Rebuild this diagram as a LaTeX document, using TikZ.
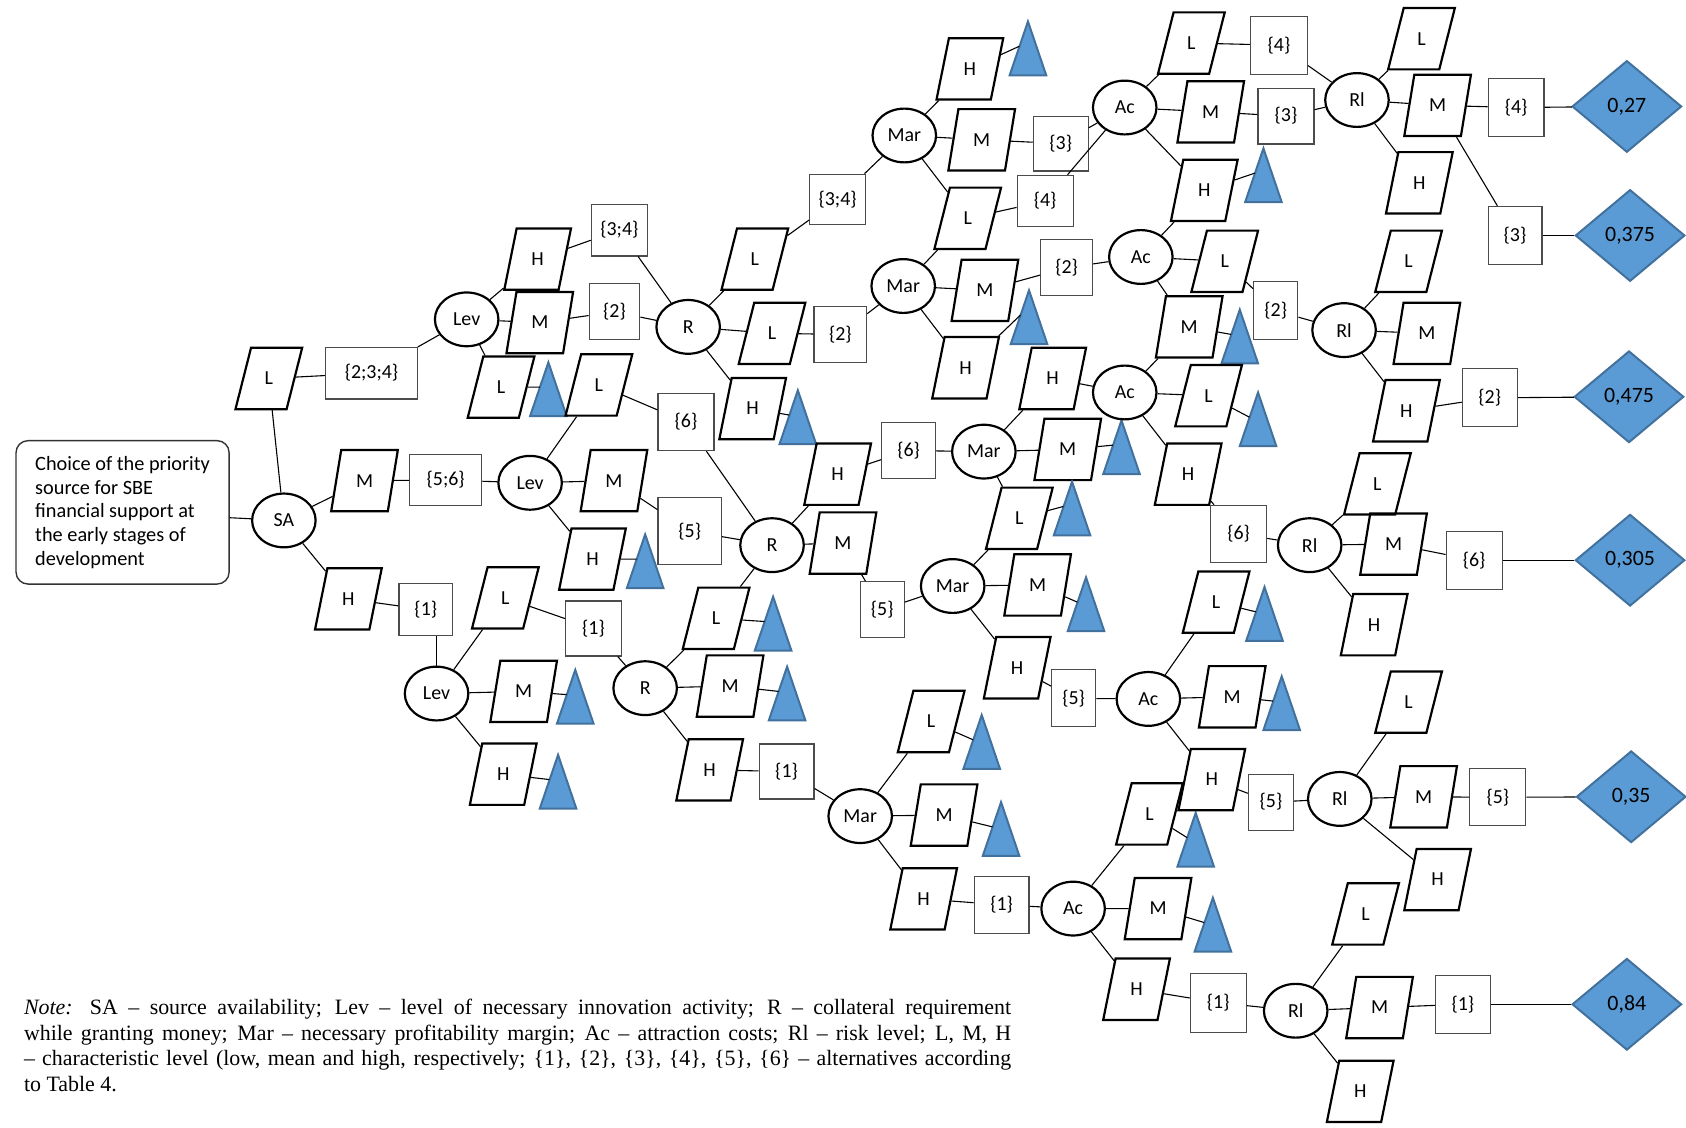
\documentclass[tikz,border=0pt]{standalone}
\usepackage{fontspec}
\setmainfont{Carlito}
\newfontfamily\notefont{Liberation Serif}
\usetikzlibrary{shapes.geometric}
\definecolor{triblue}{RGB}{91,155,213}
\definecolor{triedge}{RGB}{65,113,156}
\tikzset{
 lbl/.style={font=\fontsize{10}{12}\selectfont},
 para/.style={lbl, trapezium, trapezium left angle=74, trapezium right angle=106, trapezium stretches=true, draw, line width=1.1pt, minimum width=33.5pt, minimum height=30.8pt, inner sep=0pt},
 ell/.style={lbl, ellipse, draw, line width=1.1pt, minimum width=31.9pt, minimum height=27pt, inner sep=0pt},
 bx/.style 2 args={lbl, rectangle, draw=black!70, line width=0.6pt, minimum width=#1*0.54pt, minimum height=#2*0.54pt, inner sep=0pt},
 dia/.style={font=\fontsize{11}{13}\selectfont, diamond, aspect=1.2, fill=triblue, draw=triedge, line width=1pt, minimum width=55pt, minimum height=46pt, inner sep=0pt},
 conn/.style={line width=0.55pt},
 trishape/.style={fill=triblue, draw=triedge, line width=1pt},
 mainbox/.style={rectangle, rounded corners=6pt, draw=black!80, line width=0.7pt, minimum width=107pt, minimum height=72pt, align=left, font=\fontsize{10.2}{11.9}\selectfont, inner sep=0pt},
}
\newcommand\mytri[2]{\filldraw[trishape,shift={(#2)}] (0,-25) -- (17,25) -- (-17,25) -- cycle; \path[shift={(#2)}] (-8,-2) coordinate (#1);}
\begin{document}
\begin{tikzpicture}[x=0.54pt,y=-0.54pt]
\fill[white] (0,0) rectangle (1568,1049);
\useasboundingbox (0,0) rectangle (1568,1049);

\node[mainbox] (main) at (114,476.5) {Choice of the priority\\source for SBE\\financial support at\\the early stages of\\development};
\node[ell] (SA) at (264,484) {SA};
\node[para] (saL) at (250,352) {L};
\node[para] (saM) at (339,447) {M};
\node[para] (saH) at (324,557) {H};
\node[bx={85}{48}] (b234) at (345.5,347) {\{2;3;4\}};
\node[bx={67}{47}] (b56) at (414.5,446.5) {\{5;6\}};
\node[bx={50}{48}] (b1a) at (396,567) {\{1\}};

\node[ell] (levA) at (434,297) {Lev};
\node[para] (lAH) at (500,241) {H};
\node[para] (lAM) at (502,300) {M};
\node[para] (lAL) at (466,360) {L};
\mytri{T1}{510,362}
\node[bx={52}{48}] (b34a) at (576,214) {\{3;4\}};
\node[bx={47}{52}] (b2a) at (571.5,290) {\{2\}};

\node[ell] (levB) at (493,449) {Lev};
\node[para] (lBL) at (557,358) {L};
\node[para] (lBM) at (571,447) {M};
\node[para] (lBH) at (551,520) {H};
\mytri{T2}{600,522}
\node[bx={52}{53}] (b6a) at (638,392.5) {\{6\}};
\node[bx={59}{62}] (b5a) at (641.5,494) {\{5\}};

\node[ell] (levC) at (406,645) {Lev};
\node[para] (lCL) at (470,556) {L};
\node[para] (lCM) at (487,643) {M};
\node[para] (lCH) at (468,720) {H};
\mytri{T4}{535,648}
\mytri{T5}{519,727}
\node[bx={52}{51}] (b1b) at (552,584.5) {\{1\}};

\node[ell] (rA) at (640,304) {R};
\node[para] (rAL1) at (702,241) {L};
\node[para] (rAL2) at (718,310) {L};
\node[para] (rAH) at (700,380) {H};
\mytri{T3}{742,388}
\node[bx={52}{47}] (b34b) at (779,185.5) {\{3;4\}};
\node[bx={49}{52}] (b2b) at (781.5,311) {\{2\}};

\node[ell] (rB) at (718,507) {R};
\node[para] (rBH) at (779,441) {H};
\node[para] (rBM) at (784,505) {M};
\node[bx={50}{52}] (b6b) at (845,419) {\{6\}};
\node[bx={41}{52}] (b5b) at (820.5,567) {\{5\}};

\node[ell] (rC) at (600,640) {R};
\node[para] (rCL) at (666,575) {L};
\node[para] (rCM) at (679,638) {M};
\node[para] (rCH) at (660,716) {H};
\mytri{T6}{719,580}
\mytri{T7}{732,645}
\node[bx={51}{51}] (b1c) at (731.5,717.5) {\{1\}};

\node[ell] (marE) at (800,759) {Mar};
\node[para] (mEL) at (866,671) {L};
\node[para] (mEM) at (878,758) {M};
\node[para] (mEH) at (859,836) {H};
\mytri{T8}{913,690}
\mytri{T9}{931,771}
\node[bx={51}{53}] (b1d) at (931.5,841.5) {\{1\}};

\node[ell] (acE) at (998,845) {Ac};
\node[para] (aEL) at (1069,757) {L};
\node[para] (aEM) at (1077,845) {M};
\node[para] (aEH) at (1057,920) {H};
\mytri{T20}{1112,781}
\mytri{T21}{1128,860}
\node[bx={52}{55}] (b1e) at (1133,932.5) {\{1\}};

\node[ell] (marA) at (841,126) {Mar};
\node[para] (mAH) at (902,64) {H};
\node[para] (mAM) at (913,130) {M};
\node[para] (mAL) at (900,203) {L};
\mytri{T10}{956,45}
\node[bx={51}{51}] (b3a) at (986.5,133.5) {\{3\}};
\node[bx={52}{48}] (b4a) at (972,187) {\{4\}};

\node[ell] (marB) at (840,266) {Mar};
\node[para] (mBM) at (916,270) {M};
\node[para] (mBH) at (898,342) {H};
\mytri{T11}{957,295}
\node[bx={48}{52}] (b2c) at (992,249) {\{2\}};

\node[ell] (acA) at (1046,100) {Ac};
\node[para] (aAL) at (1108,40) {L};
\node[para] (aAM) at (1126,104) {M};
\node[para] (aAH) at (1120,177) {H};
\mytri{T12}{1175,163}
\node[bx={53}{54}] (b4b) at (1189.5,42) {\{4\}};
\node[bx={52}{52}] (b3b) at (1196,108) {\{3\}};

\node[ell] (acB) at (1061,239) {Ac};
\node[para] (aBL) at (1139,243) {L};
\node[para] (aBM) at (1106,304) {M};
\mytri{T13}{1153,313}
\node[bx={41}{54}] (b2d) at (1186.5,289) {\{2\}};

\node[ell] (marC) at (915,420) {Mar};
\node[para] (mCH) at (979,352) {H};
\node[para] (mCM) at (993,418) {M};
\node[para] (mCL) at (948,482) {L};
\mytri{T15}{1043,416}
\mytri{T16}{997,473}

\node[ell] (acC) at (1046,365) {Ac};
\node[para] (aCL) at (1124,368) {L};
\node[para] (aCH) at (1105,441) {H};
\mytri{T14}{1170,390}
\node[bx={52}{53}] (b6c) at (1152,496.5) {\{6\}};

\node[ell] (marD) at (886,545) {Mar};
\node[para] (mDM) at (965,544) {M};
\node[para] (mDH) at (946,621) {H};
\mytri{T17}{1010,562}
\node[bx={41}{53}] (b5c) at (998.5,649.5) {\{5\}};

\node[ell] (acD) at (1068,650) {Ac};
\node[para] (aDL) at (1131,560) {L};
\node[para] (aDM) at (1146,648) {M};
\node[para] (aDH) at (1127,725) {H};
\mytri{T18}{1176,571}
\mytri{T19}{1192,654}
\node[bx={42}{52}] (b5d) at (1182,746) {\{5\}};

\node[ell] (rlA) at (1262,93) {Rl};
\node[para] (rlAL) at (1322,36) {L};
\node[para] (rlAM) at (1337,98) {M};
\node[para] (rlAH) at (1320,170) {H};
\node[bx={52}{54}] (b4c) at (1410,100) {\{4\}};
\node[bx={50}{54}] (b3c) at (1409,219) {\{3\}};
\node[dia] (d1) at (1513,99) {0,27};
\node[dia] (d2) at (1516,219) {0,375};

\node[ell] (rlB) at (1250,307) {Rl};
\node[para] (rlBL) at (1310,243) {L};
\node[para] (rlBM) at (1327,310) {M};
\node[para] (rlBH) at (1308,382) {H};
\node[bx={51}{54}] (b2e) at (1385.5,370) {\{2\}};
\node[dia] (d3) at (1515,369) {0,475};

\node[ell] (rlD) at (1218,507) {Rl};
\node[para] (rlDL) at (1281,450) {L};
\node[para] (rlDM) at (1296,506) {M};
\node[para] (rlDH) at (1278,581) {H};
\node[bx={52}{54}] (b6d) at (1371,521) {\{6\}};
\node[dia] (d4) at (1516,521) {0,305};

\node[ell] (rlE) at (1246,743) {Rl};
\node[para] (rlEL) at (1310,653) {L};
\node[para] (rlEM) at (1324,741) {M};
\node[para] (rlEH) at (1337,818) {H};
\node[bx={52}{53}] (b5e) at (1393,741.5) {\{5\}};
\node[dia] (d5) at (1517,741) {0,35};

\node[ell] (rlF) at (1205,940) {Rl};
\node[para] (rlFL) at (1270,850) {L};
\node[para] (rlFM) at (1283,937) {M};
\node[para] (rlFH) at (1265,1015) {H};
\node[bx={51}{54}] (b1f) at (1360.5,934) {\{1\}};
\node[dia] (d6) at (1513,934) {0,84};

\draw[conn] (levC.north |- b1a.south) -- (levC.north);
\foreach \a/\b in {main/SA, SA/saL, SA/saM, SA/saH, saL/b234, b234/levA, saM/b56, b56/levB, saH/b1a,
 levA/lAH, levA/lAM, levA/lAL, lAL/T1, lAH/b34a, lAM/b2a, b34a/rA, b2a/rA,
 levB/lBL, levB/lBM, levB/lBH, lBH/T2, lBL/b6a, lBM/b5a, b6a/rB, b5a/rB,
 levC/lCL, levC/lCM, levC/lCH, lCM/T4, lCH/T5, lCL/b1b, b1b/rC,
 rA/rAL1, rA/rAL2, rA/rAH, rAH/T3, rAL1/b34b, rAL2/b2b, b34b/marA, b2b/marB,
 rB/rBH, rB/rBM, rB/rCL, rBH/b6b, rBM/b5b, b6b/marC, b5b/marD,
 rC/rCL, rC/rCM, rC/rCH, rCL/T6, rCM/T7, rCH/b1c, b1c/marE,
 marE/mEL, marE/mEM, marE/mEH, mEL/T8, mEM/T9, mEH/b1d, b1d/acE,
 acE/aEL, acE/aEM, acE/aEH, aEL/T20, aEM/T21, aEH/b1e, b1e/rlF,
 marA/mAH, marA/mAM, marA/mAL, mAH/T10, mAM/b3a, mAL/b4a, b3a/acA, b4a/acA,
 marB/mAL, marB/mBM, marB/mBH, mBH/T11, mBM/b2c, b2c/acB,
 acA/aAL, acA/aAM, acA/aAH, aAH/T12, aAL/b4b, aAM/b3b, b4b/rlA, b3b/rlA,
 acB/aAH, acB/aBL, acB/aBM, aBM/T13, aBL/b2d, b2d/rlB,
 marC/mCH, marC/mCM, marC/mCL, mCM/T15, mCL/T16, mCH/acC,
 acC/aBM, acC/aCL, acC/aCH, aCL/T14, aCH/b6c, b6c/rlD,
 marD/mCL, marD/mDM, marD/mDH, mDM/T17, mDH/b5c, b5c/acD,
 acD/aDL, acD/aDM, acD/aDH, aDL/T18, aDM/T19, aDH/b5d, b5d/rlE,
 rlA/rlAL, rlA/rlAM, rlA/rlAH, rlAM/b4c, b4c/d1, rlAM/b3c, b3c/d2,
 rlB/rlBL, rlB/rlBM, rlB/rlBH, rlBH/b2e, b2e/d3,
 rlD/rlDL, rlD/rlDM, rlD/rlDH, rlDM/b6d, b6d/d4,
 rlE/rlEL, rlE/rlEM, rlE/rlEH, rlEM/b5e, b5e/d5,
 rlF/rlFL, rlF/rlFM, rlF/rlFH, rlFM/b1f, b1f/d6}
 \draw[conn] (\a) -- (\b);

\node[anchor=north west, inner sep=0pt, font=\notefont\fontsize{11}{12.8}\selectfont, align=left] (note) at (22,929) {%
\makebox[495.7pt][s]{\textit{Note:} SA – source availability; Lev – level of necessary innovation activity; R – collateral requirement}\\
\makebox[495.7pt][s]{while granting money; Mar – necessary profitability margin; Ac – attraction costs; Rl – risk level; L, M, H}\\
\makebox[495.7pt][s]{– characteristic level (low, mean and high, respectively; \{1\}, \{2\}, \{3\}, \{4\}, \{5\}, \{6\} – alternatives according}\\
to Table 4.};
\end{tikzpicture}
\end{document}
